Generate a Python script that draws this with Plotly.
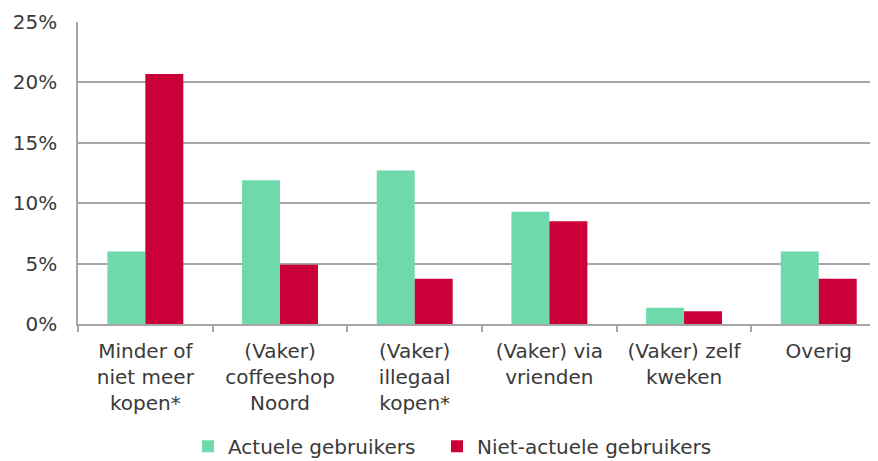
import plotly.graph_objects as go

categories = [
    "Minder of<br>niet meer<br>kopen*",
    "(Vaker)<br>coffeeshop<br>Noord",
    "(Vaker)<br>illegaal<br>kopen*",
    "(Vaker) via<br>vrienden",
    "(Vaker) zelf<br>kweken",
    "Overig",
]
actuele = [6.0, 11.9, 12.7, 9.3, 1.35, 6.0]
niet_actuele = [20.7, 4.9, 3.75, 8.5, 1.05, 3.75]
series_names = ["Actuele gebruikers", "Niet-actuele gebruikers"]
y_ticks = [0, 5, 10, 15, 20, 25]
y_tick_labels = [f"{v}%" for v in y_ticks]

FONT = "DejaVu Sans, Verdana, sans-serif"
TEXT = "#3a3a3a"
GRID = "#a6a6a6"

fig = go.Figure()
fig.add_trace(go.Bar(x=categories, y=actuele, name=series_names[0], legend="legend",
                     marker=dict(color="#6fd9ac", line=dict(width=0))))
fig.add_trace(go.Bar(x=categories, y=niet_actuele, name=series_names[1], legend="legend2",
                     marker=dict(color="#cc0038", line=dict(width=0))))

legend_common = dict(orientation="h", xanchor="left", y=-0.405, yanchor="middle",
                     font=dict(family=FONT, size=20, color=TEXT),
                     bgcolor="rgba(0,0,0,0)", borderwidth=0)

fig.update_layout(
    width=870, height=453,
    margin=dict(l=70, r=0, t=13.5, b=136.5, autoexpand=False),
    paper_bgcolor="white", plot_bgcolor="white",
    barmode="group", bargap=0.436, bargroupgap=0,
    font=dict(family=FONT, size=20, color=TEXT),
    showlegend=True,
    legend=dict(x=0.1375, **legend_common),
    legend2=dict(x=0.44875, **legend_common),
)
fig.update_xaxes(
    range=[-0.5, 5.44], showgrid=False, showline=True, linecolor=GRID, linewidth=1.5,
    ticks="outside", tickson="boundaries", ticklen=6, tickcolor=GRID, tickwidth=1.5,
    ticklabelstandoff=8,
    tickfont=dict(family=FONT, size=20, color=TEXT), fixedrange=True, automargin=False,
)
fig.update_yaxes(
    range=[0, 25], tickvals=y_ticks, ticktext=y_tick_labels,
    showgrid=True, gridcolor=GRID, gridwidth=1.5, zeroline=False,
    showline=True, linecolor=GRID, linewidth=1.5, ticks="", ticklabelstandoff=15,
    tickfont=dict(family=FONT, size=20, color=TEXT), fixedrange=True, automargin=False,
)

fig.write_html("out.html")
